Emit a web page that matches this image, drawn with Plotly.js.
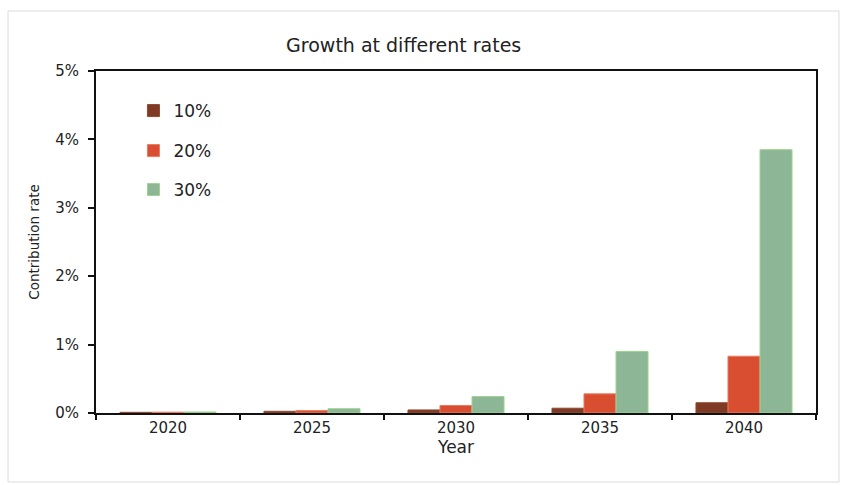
<!DOCTYPE html>
<html>
<head>
<meta charset="utf-8">
<script src="https://cdn.plot.ly/plotly-3.0.1.min.js"></script>
<style>html,body{margin:0;padding:0;background:#fff;}#chart{width:841px;height:485px;}</style>
</head>
<body>
<div id="chart"></div>
<script>
const years = ['2020', '2025', '2030', '2035', '2040'];
const seriesNames = ['10%', '20%', '30%'];
const rate10 = [0.01, 0.025, 0.045, 0.07, 0.15];
const rate20 = [0.012, 0.035, 0.11, 0.28, 0.83];
const rate30 = [0.015, 0.063, 0.24, 0.9, 3.85];
const yTickVals = [0, 1, 2, 3, 4, 5];
const yTickText = ['0%', '1%', '2%', '3%', '4%', '5%'];

const colors = ['#7e3a24', '#d94e30', '#8db696'];
const lineColors = ['#8e4a32', '#ea7a60', '#9fd28e'];
const legendIds = ['legend', 'legend2', 'legend3'];
const seriesVals = [rate10, rate20, rate30];

const traces = seriesVals.map((vals, i) => ({
  type: 'bar',
  name: seriesNames[i],
  x: years,
  y: vals,
  legend: legendIds[i],
  marker: {color: colors[i], line: {color: lineColors[i], width: 1}},
  hoverinfo: 'x+y+name'
}));

const legendFont = {family: 'DejaVu Sans, sans-serif', size: 17, color: '#222'};
const legendY = [0.883, 0.766, 0.652];
function mkLegend(i) {
  return {x: 0.052, xanchor: 'left', y: legendY[i], yanchor: 'middle',
    bgcolor: 'rgba(0,0,0,0)', borderwidth: 0, font: legendFont};
}

const layout = {
  width: 841, height: 485,
  margin: {l: 96, r: 25, t: 71, b: 72},
  paper_bgcolor: '#fff', plot_bgcolor: '#fff',
  font: {family: 'DejaVu Sans, sans-serif', color: '#222'},
  title: {text: 'Growth at different rates', font: {family: 'DejaVu Sans, sans-serif', size: 19, color: '#222'},
    x: 0.48, xanchor: 'center', xref: 'container', y: 0.907, yanchor: 'middle', yref: 'container'},
  barmode: 'group', bargap: 0.333, bargroupgap: 0,
  showlegend: true,
  legend: mkLegend(0), legend2: mkLegend(1), legend3: mkLegend(2),
  xaxis: {
    type: 'category',
    showline: true, linecolor: '#111', linewidth: 2, mirror: true,
    ticks: 'outside', tickson: 'boundaries', ticklen: 5, tickwidth: 2, tickcolor: '#111',
    showgrid: false, zeroline: false,
    tickfont: {family: 'DejaVu Sans, sans-serif', size: 15, color: '#222'},
    title: {text: 'Year', font: {family: 'DejaVu Sans, sans-serif', size: 17, color: '#222'}, standoff: 4}
  },
  yaxis: {
    range: [0, 5], tickmode: 'array', tickvals: yTickVals, ticktext: yTickText,
    showline: true, linecolor: '#111', linewidth: 2, mirror: true,
    ticks: 'outside', ticklen: 6, tickwidth: 2, tickcolor: '#111',
    ticklabelstandoff: 6,
    showgrid: false, zeroline: false,
    tickfont: {family: 'DejaVu Sans, sans-serif', size: 15, color: '#222'},
    title: {text: 'Contribution rate', font: {family: 'DejaVu Sans, sans-serif', size: 13.5, color: '#222'}, standoff: 12}
  },
  shapes: [{type: 'rect', xref: 'paper', yref: 'paper', x0: -0.1222, x1: 1.0319, y0: -0.2018, y1: 1.1754,
    line: {color: '#dcdcdc', width: 1}, fillcolor: 'rgba(0,0,0,0)', layer: 'below'}]
};

Plotly.newPlot('chart', traces, layout, {displayModeBar: false, staticPlot: true});
</script>
</body>
</html>
